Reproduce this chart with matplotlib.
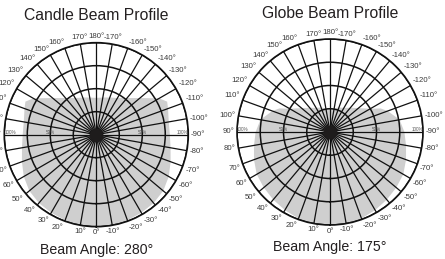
import numpy as np
import matplotlib
matplotlib.use("Agg")
import matplotlib.pyplot as plt

plt.rcParams['font.family'] = ['Liberation Sans', 'DejaVu Sans']

# ---- data ----
titles = ["Candle Beam Profile", "Globe Beam Profile"]
subtitles = ["Beam Angle: 280°", "Beam Angle: 175°"]
half_angles = [0, 10, 20, 30, 40, 50, 60, 70, 80, 90, 100, 110, 115, 120, 130, 140, 150, 160, 170, 180]
candle_intensity = [100, 100, 99, 98, 97, 95, 91, 86, 82, 80, 80, 83, 85, 79, 62, 52, 46, 43, 41, 40]
globe_intensity = [100, 100, 99, 97, 95, 93, 91, 87, 83, 80, 76, 66, 60, 50, 40, 34, 30, 28, 26, 25]
tick_angles = list(range(-170, 190, 10))
tick_labels = [f"{a}°" for a in tick_angles]
ring_levels = [25, 50, 75, 100]
pct_labels = ["50%", "100%"]

profiles = [candle_intensity, globe_intensity]
# axes rects [left, bottom, width, height] in figure fraction
rects = [[0.0096, 0.1248, 0.4135, 0.7104], [0.5326, 0.1313, 0.418, 0.7181]]
title_y = [0.942, 0.946]
sub_y = [0.035, 0.045]

fig = plt.figure(figsize=(4.45, 2.59), dpi=100)
fig.patch.set_facecolor('white')

for i in range(2):
    ax = fig.add_axes(rects[i], projection='polar')
    ax.set_theta_zero_location('S')
    ax.set_theta_direction(-1)
    ax.set_ylim(0, 100)
    # profile (mirrored)
    ang = np.array(half_angles, dtype=float)
    val = np.array(profiles[i], dtype=float)
    full_ang = np.concatenate([-ang[::-1], ang[1:]])
    full_val = np.concatenate([val[::-1], val[1:]])
    ax.fill(np.radians(full_ang), full_val, color='#cfcfcf', lw=0, zorder=1)
    # grids
    ax.set_rgrids(ring_levels, labels=[''] * len(ring_levels))
    ax.set_thetagrids(np.arange(0, 360, 10), labels=[''] * 36)
    ax.yaxis.grid(True, color='#111111', lw=1.1)
    ax.xaxis.grid(True, color='#111111', lw=0.9)
    ax.spines['polar'].set_color('#111111')
    ax.spines['polar'].set_linewidth(1.2)
    ax.tick_params(length=0)
    ax.plot([0], [0], 'o', ms=9, color='#1e1c1c', zorder=5, clip_on=False)
    # angle labels
    for a, lab in zip(tick_angles, tick_labels):
        t = np.radians(a)
        ux, uy = -np.sin(t), -np.cos(t)
        ha = 'left' if ux > 0.25 else ('right' if ux < -0.25 else 'center')
        va = 'bottom' if uy > 0.25 else ('top' if uy < -0.25 else 'center')
        ax.annotate(lab, xy=(t, 100), xytext=(2.0 * ux, 2.0 * uy),
                    textcoords='offset points', ha=ha, va=va,
                    fontsize=5.6, color='#3a3a3a', annotation_clip=False)
    # percent labels
    ax.text(np.radians(90), 50, pct_labels[0], ha='center', va='bottom',
            fontsize=3.3, color='#555555')
    ax.text(np.radians(-90), 50, pct_labels[0], ha='center', va='bottom',
            fontsize=3.3, color='#555555')
    ax.text(np.radians(90), 100, pct_labels[1], ha='left', va='bottom',
            fontsize=3.3, color='#555555')
    ax.text(np.radians(-90), 100, pct_labels[1], ha='right', va='bottom',
            fontsize=3.3, color='#555555')
    cx = rects[i][0] + rects[i][2] / 2
    fig.text(cx, title_y[i], titles[i], ha='center', va='center',
             fontsize=11.3, color='#231f20')
    fig.text(cx, sub_y[i], subtitles[i], ha='center', va='center',
             fontsize=10.2, color='#231f20')

fig.savefig('out.png', dpi=100, facecolor='white')
